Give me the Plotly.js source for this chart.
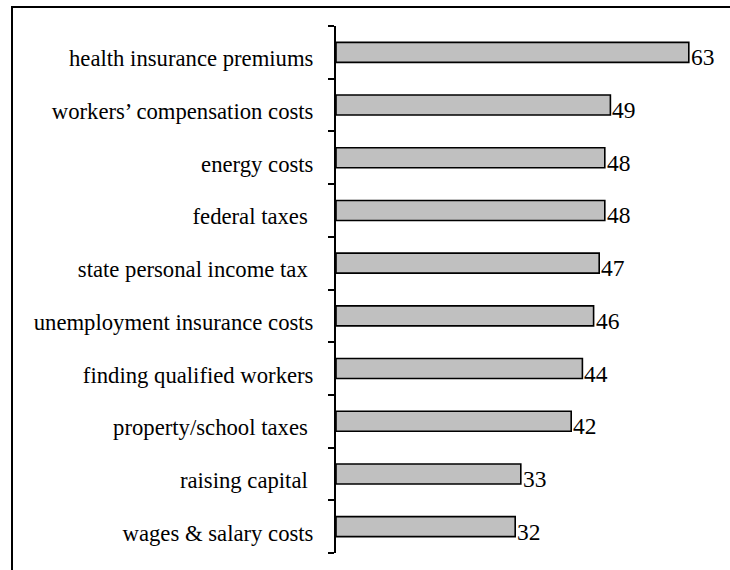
<!DOCTYPE html>
<html>
<head>
<meta charset="utf-8">
<script src="https://cdn.plot.ly/plotly-3.0.1.min.js"></script>
<style>
  html, body { margin: 0; padding: 0; background: #fff; }
  #wrap { position: relative; width: 730px; height: 570px; overflow: hidden; }
  #chart { position: absolute; left: 0; top: 0; width: 730px; height: 570px; }
  #frame { position: absolute; left: 11px; top: 6px; width: 760px; height: 600px;
           border-left: 2px solid #000; border-top: 2px solid #000; pointer-events: none; }
</style>
</head>
<body>
<div id="wrap">
  <div id="chart"></div>
  <div id="frame"></div>
</div>
<script>
const categories = [
  "health insurance premiums",
  "workers\u2019 compensation costs",
  "energy costs",
  "federal taxes ",
  "state personal income tax ",
  "unemployment insurance costs",
  "finding qualified workers",
  "property/school taxes ",
  "raising capital ",
  "wages & salary costs"
];
const values = [63, 49, 48, 48, 47, 46, 44, 42, 33, 32];
const tickLabels = categories.map(s => s.replace(/ $/, "\u00a0"));

const serif = "Liberation Serif, Times New Roman, serif";

const trace = {
  type: "bar",
  orientation: "h",
  x: values,
  y: categories,
  marker: { color: "#c0c0c0", line: { color: "#000", width: 1.6 } },
  hoverinfo: "none"
};

const valueLabels = values.map((v, i) => ({
  x: v,
  y: categories[i],
  xref: "x",
  yref: "y",
  text: String(v),
  showarrow: false,
  xanchor: "left",
  yanchor: "middle",
  xshift: 0,
  yshift: -5,
  font: { family: serif, size: 23.5, color: "#000" }
}));

const layout = {
  width: 730,
  height: 570,
  margin: { l: 336, r: 2, t: 26, b: 17, pad: 0 },
  paper_bgcolor: "#fff",
  plot_bgcolor: "#fff",
  showlegend: false,
  bargap: 0.62,
  font: { family: serif, size: 22.7, color: "#000" },
  annotations: valueLabels,
  xaxis: {
    range: [0, 70],
    visible: false,
    showgrid: false,
    zeroline: false
  },
  yaxis: {
    type: "category",
    categoryorder: "array",
    categoryarray: categories,
    tickvals: categories,
    ticktext: tickLabels,
    autorange: "reversed",
    showline: true,
    linecolor: "#000",
    linewidth: 2,
    ticks: "outside",
    tickson: "boundaries",
    ticklen: 6,
    tickwidth: 2,
    tickcolor: "#000",
    ticklabelstandoff: 16,
    ticklabelshift: -6,
    showgrid: false,
    zeroline: false,
    tickfont: { family: serif, size: 22.7, color: "#000" }
  }
};

Plotly.newPlot("chart", [trace], layout, { displayModeBar: false, staticPlot: true });
</script>
</body>
</html>
